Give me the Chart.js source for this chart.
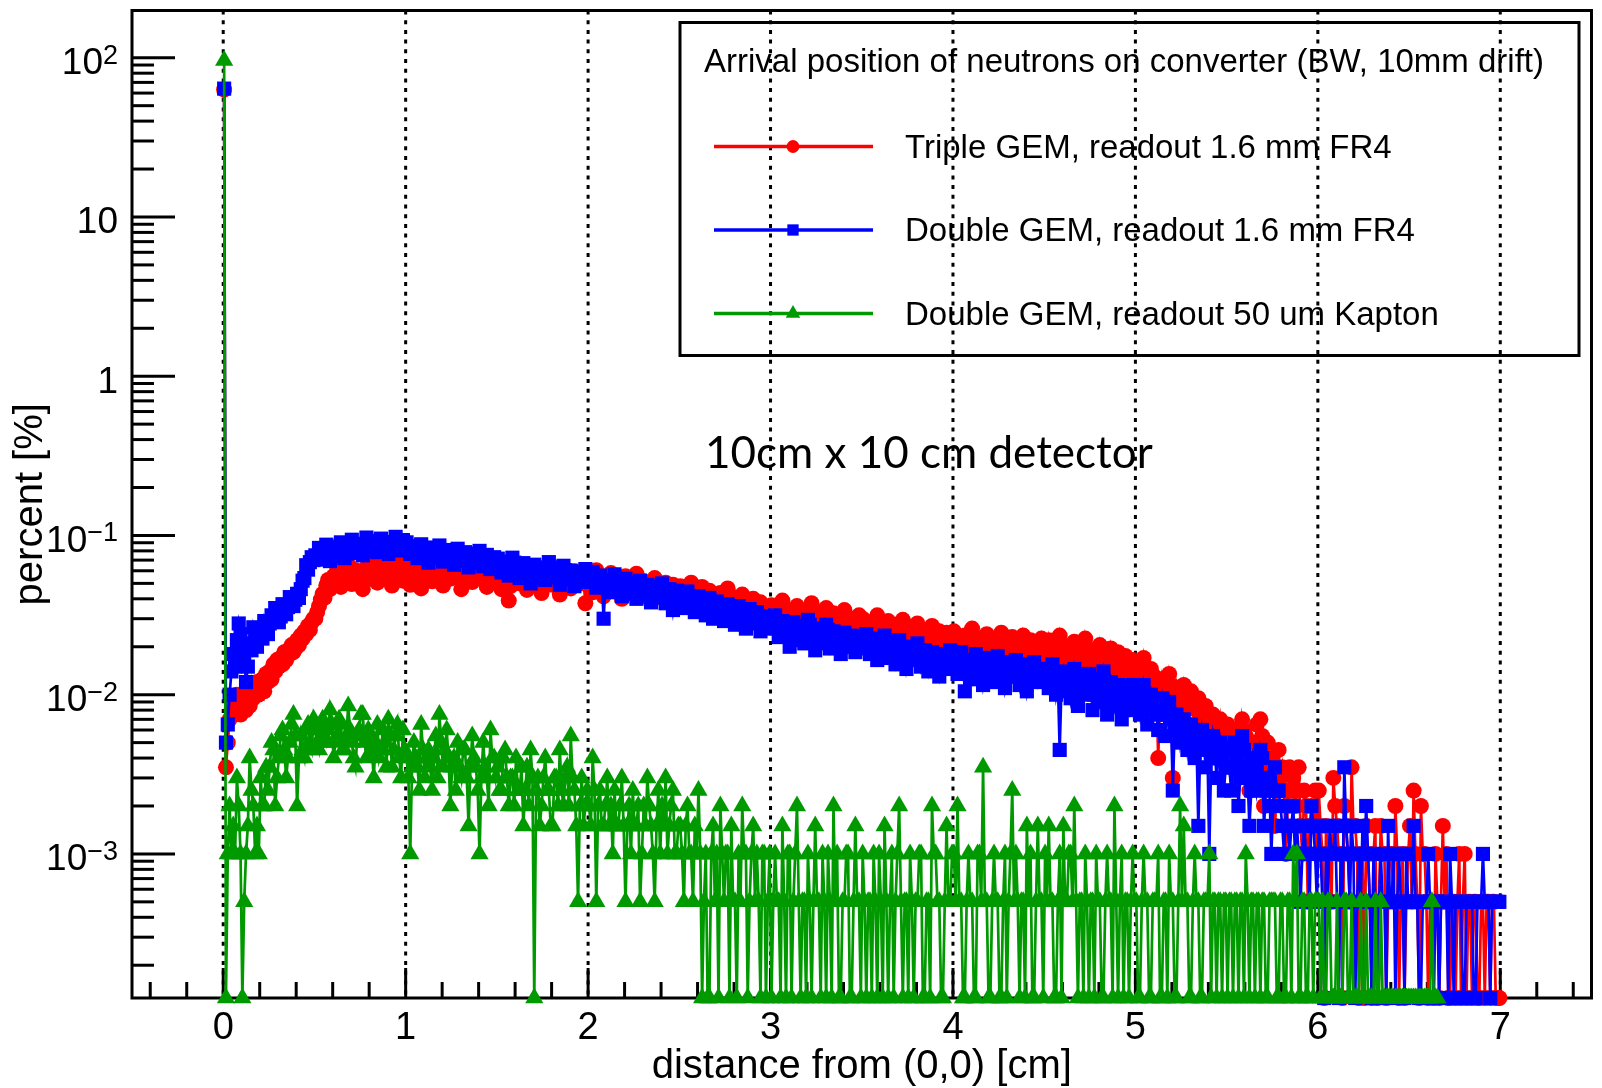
<!DOCTYPE html>
<html>
<head>
<meta charset="utf-8">
<title>Arrival position of neutrons on converter</title>
<script src="https://cdn.jsdelivr.net/npm/chart.js@4.4.1/dist/chart.umd.min.js"></script>
<style>
    html, body { margin: 0; padding: 0; background: #fff; }
    #wrap { width: 1602px; height: 1088px; }
</style>
</head>
<body>
<div id="wrap"><canvas id="arrivalChart" width="1602" height="1088"></canvas></div>
<script>
// --- histogram binning ---
const BIN_WIDTH = 0.01;           // cm, first bin starts at 0
const PERCENT_PER_ENTRY = 0.0005; // one entry in a bin = 0.0005 %

// entries per bin, one line = 0.5 cm
const tripleFr4Entries = [
    126000, 7, 10, 14, 16, 19, 17, 20, 18, 15, 17, 19, 16, 21, 17, 23, 19, 21, 24, 20, 23, 25, 21, 27, 24, 28, 25, 31, 28, 33, 30, 34, 31, 37, 33, 38, 36, 41, 37, 39, 44, 41, 47, 45, 50, 48, 54, 51, 57, 60,
    60, 66, 72, 79, 86, 81, 97, 105, 92, 101, 111, 104, 122, 113, 95, 104, 109, 117, 131, 120, 99, 109, 121, 112, 104, 114, 92, 103, 126, 115, 108, 119, 136, 124, 101, 111, 123, 113, 106, 116, 129, 118, 97, 108, 115, 123, 133, 122, 104, 115,
    126, 117, 98, 109, 136, 125, 107, 118, 93, 104, 114, 124, 132, 121, 103, 112, 120, 109, 141, 129, 97, 106, 125, 114, 107, 118, 130, 119, 146, 133, 92, 101, 113, 123, 134, 122, 102, 111, 121, 110, 138, 127, 106, 115, 95, 104, 126, 116, 110, 119,
    122, 113, 92, 101, 130, 119, 78, 96, 106, 115, 134, 122, 100, 109, 119, 108, 91, 99, 125, 116, 104, 112, 121, 111, 87, 96, 116, 106, 129, 118, 98, 107, 113, 104, 85, 94, 123, 112, 102, 110, 93, 101, 119, 110, 99, 107, 115, 105, 75, 98,
    112, 103, 88, 97, 121, 110, 95, 103, 83, 92, 108, 99, 116, 106, 91, 99, 105, 96, 80, 89, 111, 102, 92, 100, 86, 95, 115, 105, 82, 91, 103, 94, 97, 88, 78, 86, 108, 99, 87, 95, 81, 90, 101, 92, 76, 85, 98, 89, 92, 84,
    96, 87, 75, 82, 92, 84, 101, 92, 71, 78, 88, 80, 95, 86, 68, 75, 90, 82, 76, 83, 65, 72, 87, 79, 73, 80, 93, 85, 67, 74, 81, 74, 62, 69, 85, 77, 69, 76, 64, 71, 80, 73, 59, 66, 76, 70, 72, 65, 61, 68,
    73, 66, 55, 61, 69, 63, 78, 70, 52, 58, 66, 59, 57, 63, 72, 65, 49, 55, 67, 60, 55, 61, 75, 67, 51, 57, 64, 58, 46, 52, 70, 62, 54, 60, 65, 59, 47, 53, 62, 56, 68, 60, 50, 56, 60, 54, 45, 51, 63, 57,
    60, 54, 46, 52, 57, 51, 43, 49, 63, 57, 54, 48, 41, 47, 58, 52, 45, 51, 55, 49, 39, 45, 59, 53, 44, 50, 53, 47, 38, 44, 56, 50, 42, 48, 51, 45, 37, 43, 54, 48, 41, 47, 50, 44, 36, 42, 49, 43, 45, 41,
    50, 44, 37, 43, 31, 36, 47, 41, 35, 41, 52, 46, 33, 39, 45, 39, 36, 42, 48, 42, 31, 37, 44, 38, 34, 40, 49, 43, 32, 38, 43, 37, 46, 40, 30, 36, 42, 36, 47, 41, 33, 39, 44, 38, 31, 37, 41, 35, 45, 39,
    37, 33, 44, 38, 30, 35, 41, 35, 47, 41, 28, 34, 40, 34, 31, 37, 43, 37, 26, 32, 39, 33, 45, 39, 29, 35, 38, 32, 27, 33, 41, 35, 30, 36, 25, 31, 39, 33, 28, 34, 37, 31, 24, 30, 35, 29, 27, 31, 33, 29,
    31, 27, 23, 27, 34, 28, 20, 24, 29, 25, 26, 22, 8, 19, 25, 21, 17, 21, 27, 23, 6, 16, 22, 18, 15, 19, 23, 19, 13, 17, 21, 17, 12, 16, 19, 15, 11, 14, 17, 13, 10, 13, 15, 12, 8, 11, 14, 11, 9, 12,
    13, 10, 7, 9, 12, 9, 6, 8, 14, 12, 11, 8, 5, 7, 10, 7, 13, 10, 14, 11, 4, 6, 10, 7, 8, 6, 3, 5, 9, 6, 7, 5, 2, 4, 7, 5, 6, 4, 5, 7, 3, 2, 5, 4, 1, 3, 4, 3, 5, 2,
    5, 3, 2, 0, 3, 2, 2, 1, 6, 4, 3, 2, 2, 0, 4, 3, 2, 1, 7, 3, 3, 2, 0, 1, 2, 0, 3, 2, 1, 0, 2, 3, 0, 1, 3, 2, 2, 0, 1, 2, 2, 1, 4, 2, 0, 1, 2, 0, 1, 2,
    3, 1, 5, 2, 1, 0, 4, 2, 2, 1, 0, 1, 1, 0, 2, 1, 0, 1, 3, 1, 2, 0, 0, 1, 1, 0, 1, 2, 0, 1, 2, 0, 1, 1, 0, 1, 1, 0, 0, 1, 1, 0, 1, 1, 0, 1, 1, 0, 0, 0
];

const doubleFr4Entries = [
    128000, 10, 13, 20, 28, 36, 30, 44, 56, 48, 40, 34, 24, 30, 42, 38, 53, 47, 40, 46, 52, 45, 58, 51, 48, 56, 63, 58, 70, 66, 57, 62, 74, 68, 64, 71, 82, 76, 72, 79, 86, 81, 92, 104, 108, 130, 122, 136, 146, 140,
    150, 141, 167, 157, 146, 156, 175, 164, 138, 148, 170, 160, 152, 163, 181, 171, 144, 154, 173, 163, 188, 177, 155, 165, 177, 167, 150, 160, 194, 182, 164, 174, 185, 173, 157, 167, 191, 179, 176, 165, 153, 163, 182, 171, 196, 184, 161, 172, 187, 176,
    181, 171, 153, 163, 171, 160, 144, 154, 176, 166, 150, 160, 135, 145, 168, 158, 146, 156, 173, 162, 137, 147, 162, 152, 142, 152, 131, 141, 165, 155, 139, 149, 157, 147, 126, 136, 154, 144, 135, 145, 160, 150, 128, 138, 151, 141, 123, 133, 146, 136,
    143, 133, 117, 125, 137, 127, 112, 120, 145, 135, 119, 129, 108, 116, 134, 126, 115, 123, 100, 108, 131, 123, 111, 119, 126, 118, 105, 113, 136, 126, 109, 117, 122, 114, 98, 106, 129, 121, 106, 114, 120, 112, 96, 102, 118, 110, 103, 111, 123, 115,
    110, 102, 118, 110, 94, 102, 112, 104, 60, 96, 105, 97, 88, 96, 114, 106, 91, 99, 83, 89, 107, 99, 87, 95, 101, 93, 80, 88, 104, 96, 85, 91, 98, 90, 76, 82, 95, 87, 82, 88, 100, 92, 75, 81, 92, 86, 68, 84, 90, 82,
    85, 79, 70, 76, 89, 83, 73, 79, 66, 72, 83, 77, 69, 75, 63, 69, 81, 75, 60, 66, 77, 71, 65, 71, 58, 64, 74, 68, 62, 68, 55, 61, 72, 66, 59, 65, 52, 58, 69, 63, 56, 62, 66, 60, 50, 54, 62, 58, 54, 58,
    56, 52, 63, 57, 46, 50, 58, 54, 49, 53, 40, 44, 57, 53, 45, 49, 54, 50, 42, 46, 59, 55, 44, 48, 38, 42, 52, 48, 43, 47, 55, 51, 39, 43, 50, 46, 41, 45, 36, 40, 49, 45, 40, 44, 47, 43, 37, 41, 46, 42,
    43, 39, 48, 44, 36, 40, 45, 41, 33, 37, 42, 38, 47, 43, 34, 38, 41, 37, 31, 35, 44, 40, 35, 39, 29, 33, 40, 36, 33, 37, 42, 38, 30, 34, 38, 34, 28, 32, 37, 33, 35, 31, 26, 30, 36, 32, 29, 33, 38, 34,
    35, 31, 27, 31, 37, 33, 21, 27, 33, 29, 25, 29, 36, 32, 26, 30, 23, 27, 34, 30, 31, 27, 24, 28, 35, 31, 25, 29, 22, 26, 32, 28, 26, 30, 33, 29, 23, 27, 31, 27, 21, 25, 30, 26, 32, 28, 24, 28, 29, 25,
    29, 25, 22, 26, 31, 27, 20, 24, 9, 23, 28, 24, 21, 25, 19, 23, 29, 25, 17, 21, 26, 22, 20, 24, 27, 23, 16, 20, 25, 21, 18, 22, 28, 24, 15, 19, 24, 20, 17, 21, 23, 19, 14, 18, 22, 18, 16, 20, 23, 19,
    22, 18, 15, 19, 23, 19, 13, 17, 20, 16, 17, 15, 12, 16, 19, 15, 11, 15, 18, 14, 5, 12, 15, 13, 10, 12, 14, 12, 9, 11, 13, 11, 8, 10, 3, 9, 12, 10, 7, 9, 2, 8, 11, 9, 6, 8, 10, 8, 5, 7,
    9, 7, 5, 7, 10, 8, 4, 6, 11, 9, 7, 6, 3, 5, 8, 7, 5, 6, 9, 8, 3, 5, 6, 5, 2, 4, 7, 5, 5, 4, 3, 2, 4, 3, 2, 3, 4, 2, 3, 2, 1, 2, 3, 2, 2, 1, 4, 3, 2, 1,
    3, 2, 1, 0, 2, 1, 3, 2, 2, 3, 1, 0, 2, 1, 7, 3, 2, 1, 3, 2, 0, 1, 2, 1, 3, 2, 4, 2, 1, 0, 2, 1, 0, 1, 2, 1, 1, 0, 3, 1, 1, 2, 0, 1, 2, 1, 1, 0, 2, 1,
    1, 1, 3, 1, 1, 0, 0, 1, 1, 1, 2, 1, 1, 0, 1, 1, 0, 1, 1, 1, 1, 0, 2, 1, 0, 1, 1, 1, 1, 0, 0, 1, 1, 1, 1, 0, 0, 1, 1, 1, 2, 1, 1, 1, 0, 1, 1, 1, 1, 1
];

const doubleKaptonEntries = [
    192000, 0, 2, 4, 2, 3, 2, 6, 4, 2, 0, 1, 2, 3, 8, 5, 4, 2, 3, 2, 6, 4, 4, 7, 5, 7, 10, 9, 4, 6, 8, 11, 12, 9, 6, 8, 10, 13, 15, 11, 4, 8, 11, 9, 8, 12, 13, 10, 9, 14,
    12, 10, 9, 13, 14, 11, 10, 12, 16, 13, 8, 10, 11, 14, 13, 9, 9, 11, 17, 12, 10, 8, 7, 11, 12, 15, 15, 10, 8, 12, 11, 9, 6, 10, 13, 8, 9, 12, 10, 7, 14, 11, 7, 9, 11, 13, 8, 6, 12, 9,
    8, 6, 2, 7, 10, 8, 7, 5, 13, 9, 6, 8, 9, 7, 5, 8, 11, 6, 15, 10, 7, 9, 12, 8, 4, 7, 8, 5, 10, 7, 6, 9, 9, 6, 3, 7, 11, 8, 7, 5, 2, 6, 10, 7, 6, 4, 12, 8, 8, 6,
    7, 5, 5, 8, 9, 6, 4, 6, 6, 4, 8, 5, 5, 7, 3, 5, 7, 4, 9, 6, 0, 5, 6, 3, 4, 6, 8, 5, 5, 3, 3, 6, 6, 4, 9, 5, 4, 6, 7, 4, 11, 6, 5, 3, 1, 4, 6, 3, 4, 5,
    4, 3, 8, 5, 1, 4, 5, 3, 3, 4, 6, 3, 4, 2, 5, 3, 3, 4, 6, 3, 1, 3, 4, 2, 5, 3, 3, 4, 1, 2, 4, 3, 6, 4, 3, 2, 1, 3, 5, 2, 4, 3, 6, 2, 3, 4, 5, 2, 2, 3,
    3, 2, 1, 3, 4, 2, 2, 1, 3, 2, 5, 2, 0, 1, 2, 0, 0, 2, 3, 1, 2, 0, 4, 2, 1, 2, 2, 0, 3, 1, 1, 0, 2, 1, 4, 2, 2, 0, 1, 2, 3, 1, 2, 1, 0, 2, 2, 0, 1, 2,
    0, 1, 2, 1, 1, 0, 3, 1, 0, 2, 2, 0, 1, 2, 4, 1, 0, 1, 1, 0, 2, 1, 0, 1, 3, 1, 1, 0, 2, 1, 0, 2, 1, 0, 4, 1, 2, 0, 0, 1, 1, 2, 2, 0, 0, 1, 3, 1, 1, 0,
    2, 1, 0, 1, 1, 0, 2, 1, 0, 2, 1, 0, 3, 1, 0, 1, 2, 0, 1, 2, 4, 1, 0, 1, 1, 0, 2, 1, 0, 1, 1, 2, 2, 0, 0, 1, 1, 0, 4, 2, 2, 1, 1, 0, 0, 1, 3, 1, 1, 2,
    2, 1, 4, 1, 1, 0, 0, 1, 2, 1, 1, 0, 0, 2, 2, 1, 7, 1, 1, 0, 0, 1, 2, 1, 1, 0, 0, 1, 2, 0, 1, 2, 5, 1, 2, 1, 0, 1, 1, 0, 3, 1, 2, 0, 0, 1, 3, 1, 1, 0,
    2, 1, 3, 1, 1, 0, 0, 1, 2, 0, 3, 1, 1, 2, 2, 1, 4, 1, 0, 1, 1, 0, 2, 1, 0, 1, 1, 0, 2, 1, 1, 0, 0, 1, 2, 1, 1, 0, 4, 1, 0, 1, 2, 0, 1, 1, 0, 1, 2, 1,
    1, 0, 0, 1, 2, 1, 1, 0, 0, 1, 1, 1, 2, 0, 0, 1, 1, 0, 2, 1, 1, 0, 0, 1, 4, 1, 3, 1, 1, 0, 0, 1, 2, 1, 1, 0, 0, 1, 1, 1, 2, 0, 1, 1, 0, 1, 1, 0, 1, 1,
    0, 1, 1, 0, 1, 1, 0, 1, 1, 0, 2, 1, 0, 1, 1, 0, 1, 1, 0, 1, 1, 0, 0, 1, 1, 1, 1, 0, 0, 1, 1, 0, 0, 1, 1, 0, 2, 1, 2, 0, 0, 1, 1, 0, 0, 1, 1, 0, 1, 1,
    1, 0, 1, 0, 0, 1, 1, 0, 0, 0, 1, 0, 0, 0, 1, 1, 0, 0, 1, 0, 0, 0, 0, 1, 0, 0, 1, 0, 0, 0, 0, 1, 0, 0, 1, 0, 0, 0, 0, 0, 0, 0, 0, 0, 0, 0, 0, 0, 0, 0,
    0, 0, 0, 0, 0, 0, 0, 0, 0, 0, 0, 0, 1, 0, 0, 0
];

const seriesLabels = [
    'Triple GEM, readout 1.6 mm FR4',
    'Double GEM, readout 1.6 mm FR4',
    'Double GEM, readout 50 um Kapton'
];
const legendTitle = 'Arrival position of neutrons on converter (BW, 10mm drift)';
const noteText = '10cm x 10 cm detector';

// axes
const X_MIN = -0.5, X_MAX = 7.5;
const Y_MIN = 1.245e-4, Y_MAX = 198;
const xTicks = [0, 1, 2, 3, 4, 5, 6, 7];
const xTickLabels = ['0', '1', '2', '3', '4', '5', '6', '7'];
const yDecades = [1e-3, 1e-2, 1e-1, 1, 10, 100];
const yTickLabels = [['10', '\u22123'], ['10', '\u22122'], ['10', '\u22121'], ['1', ''], ['10', ''], ['10', '2']];
const xTitle = 'distance from (0,0) [cm]';
const yTitle = 'percent [%]';

const FONT = '"Liberation Sans", Arial, Helvetica, sans-serif';

function toPoints(entries) {
    return entries.map((n, i) => ({
        x: (i + 0.5) * BIN_WIDTH,
        // empty bins sit on the bottom edge, like ROOT does on a log axis
        y: n > 0 ? n * PERCENT_PER_ENTRY : Y_MIN
    }));
}

const styles = [
    { color: '#ff0000', pointStyle: 'circle', radius: 8 },
    { color: '#0000ff', pointStyle: 'rect', radius: 10 },
    { color: '#009900', pointStyle: 'triangle', radius: 10.5 }
];

const rootFrame = {
    id: 'rootFrame',
    beforeDatasetsDraw(chart) {
        const { ctx, chartArea: a, scales: { x, y } } = chart;
        ctx.save();
        ctx.strokeStyle = '#000';

        // dotted grid on the integer x positions
        ctx.lineWidth = 3;
        ctx.setLineDash([4, 5.7]);
        xTicks.forEach(v => {
            const px = x.getPixelForValue(v);
            ctx.beginPath();
            ctx.moveTo(px, a.top);
            ctx.lineTo(px, a.bottom);
            ctx.stroke();
        });
        ctx.setLineDash([]);

        // frame
        ctx.lineWidth = 3;
        ctx.strokeRect(a.left, a.top, a.right - a.left, a.bottom - a.top);

        // y ticks, pointing inward
        for (let k = -4; k <= 2; k++) {
            for (let m = 1; m <= 9; m++) {
                const v = m * Math.pow(10, k);
                if (v < Y_MIN || v > Y_MAX) continue;
                const py = y.getPixelForValue(v);
                const len = m === 1 ? 43 : 22;
                ctx.beginPath();
                ctx.moveTo(a.left, py);
                ctx.lineTo(a.left + len, py);
                ctx.stroke();
            }
        }

        // x ticks: long at integers, short every 0.2
        for (let t = -2; t <= 37; t++) {
            const v = t * 0.2;
            const major = t % 5 === 0;
            const px = x.getPixelForValue(v);
            ctx.beginPath();
            ctx.moveTo(px, a.bottom);
            ctx.lineTo(px, a.bottom - (major ? 30 : 16));
            ctx.stroke();
        }
        ctx.restore();
    },
    afterDraw(chart) {
        const { ctx, chartArea: a, scales: { x, y } } = chart;
        ctx.save();
        ctx.fillStyle = '#000';

        // y labels with superscript exponents
        const labelRight = 118;
        yDecades.forEach((v, k) => {
            const py = y.getPixelForValue(v);
            const [base, exp] = yTickLabels[k];
            ctx.font = '27px ' + FONT;
            const ew = exp ? ctx.measureText(exp).width : 0;
            ctx.textAlign = 'left';
            ctx.textBaseline = 'alphabetic';
            if (exp) ctx.fillText(exp, labelRight - ew, py + 6);
            ctx.font = '37px ' + FONT;
            ctx.textAlign = 'right';
            ctx.fillText(base, labelRight - ew, py + 16.5);
        });

        // x labels
        ctx.font = '38px ' + FONT;
        ctx.textAlign = 'center';
        xTicks.forEach((v, k) => {
            ctx.fillText(xTickLabels[k], x.getPixelForValue(v), 1039);
        });

        // axis titles
        ctx.font = '40px ' + FONT;
        ctx.fillText(xTitle, (a.left + a.right) / 2, 1078);
        ctx.save();
        ctx.translate(42, (a.top + a.bottom) / 2);
        ctx.rotate(-Math.PI / 2);
        ctx.fillText(yTitle, 0, 0);
        ctx.restore();

        // legend box
        const box = { left: 680, top: 22.5, right: 1579, bottom: 355.5 };
        ctx.lineWidth = 3;
        ctx.strokeStyle = '#000';
        ctx.strokeRect(box.left, box.top, box.right - box.left, box.bottom - box.top);
        ctx.textAlign = 'left';
        ctx.font = '33px ' + FONT;
        ctx.fillText(legendTitle, 704, 72);

        const rowY = [146.5, 230, 313.5];
        ctx.font = '33px ' + FONT;
        seriesLabels.forEach((label, k) => {
            const s = styles[k];
            ctx.strokeStyle = s.color;
            ctx.fillStyle = s.color;
            ctx.lineWidth = 3.5;
            ctx.beginPath();
            ctx.moveTo(714, rowY[k]);
            ctx.lineTo(873, rowY[k]);
            ctx.stroke();
            Chart.helpers.drawPoint(ctx, { pointStyle: s.pointStyle, radius: s.radius * 0.8, rotation: 0, borderWidth: 0 }, 793, rowY[k]);
            ctx.fillStyle = '#000';
            ctx.fillText(label, 905, rowY[k] + 11);
        });

        // note added on the plot
        ctx.font = '44px Lato, "Open Sans", sans-serif';
        ctx.fillText(noteText, 705, 468);
        ctx.restore();
    }
};

const datasets = [tripleFr4Entries, doubleFr4Entries, doubleKaptonEntries].map((entries, k) => ({
    label: seriesLabels[k],
    data: toPoints(entries),
    borderColor: styles[k].color,
    backgroundColor: styles[k].color,
    pointBackgroundColor: styles[k].color,
    pointBorderWidth: 0,
    pointStyle: styles[k].pointStyle,
    pointRadius: styles[k].radius,
    borderWidth: 2.7,
    tension: 0,
    clip: false,
    order: 3 - k   // red first, green on top
}));

new Chart(document.getElementById('arrivalChart'), {
    type: 'line',
    data: { datasets: datasets },
    options: {
        responsive: false,
        animation: false,
        events: [],
        layout: { padding: { top: 10, right: 5, left: 0, bottom: 0 } },
        scales: {
            x: {
                type: 'linear',
                min: X_MIN,
                max: X_MAX,
                grid: { display: false },
                border: { display: false },
                ticks: { display: false },
                afterFit: scale => { scale.height = 90; }
            },
            y: {
                type: 'logarithmic',
                min: Y_MIN,
                max: Y_MAX,
                grid: { display: false },
                border: { display: false },
                ticks: { display: false },
                afterFit: scale => { scale.width = 132; }
            }
        },
        plugins: {
            legend: { display: false },
            tooltip: { enabled: false }
        }
    },
    plugins: [rootFrame]
});
</script>
</body>
</html>
